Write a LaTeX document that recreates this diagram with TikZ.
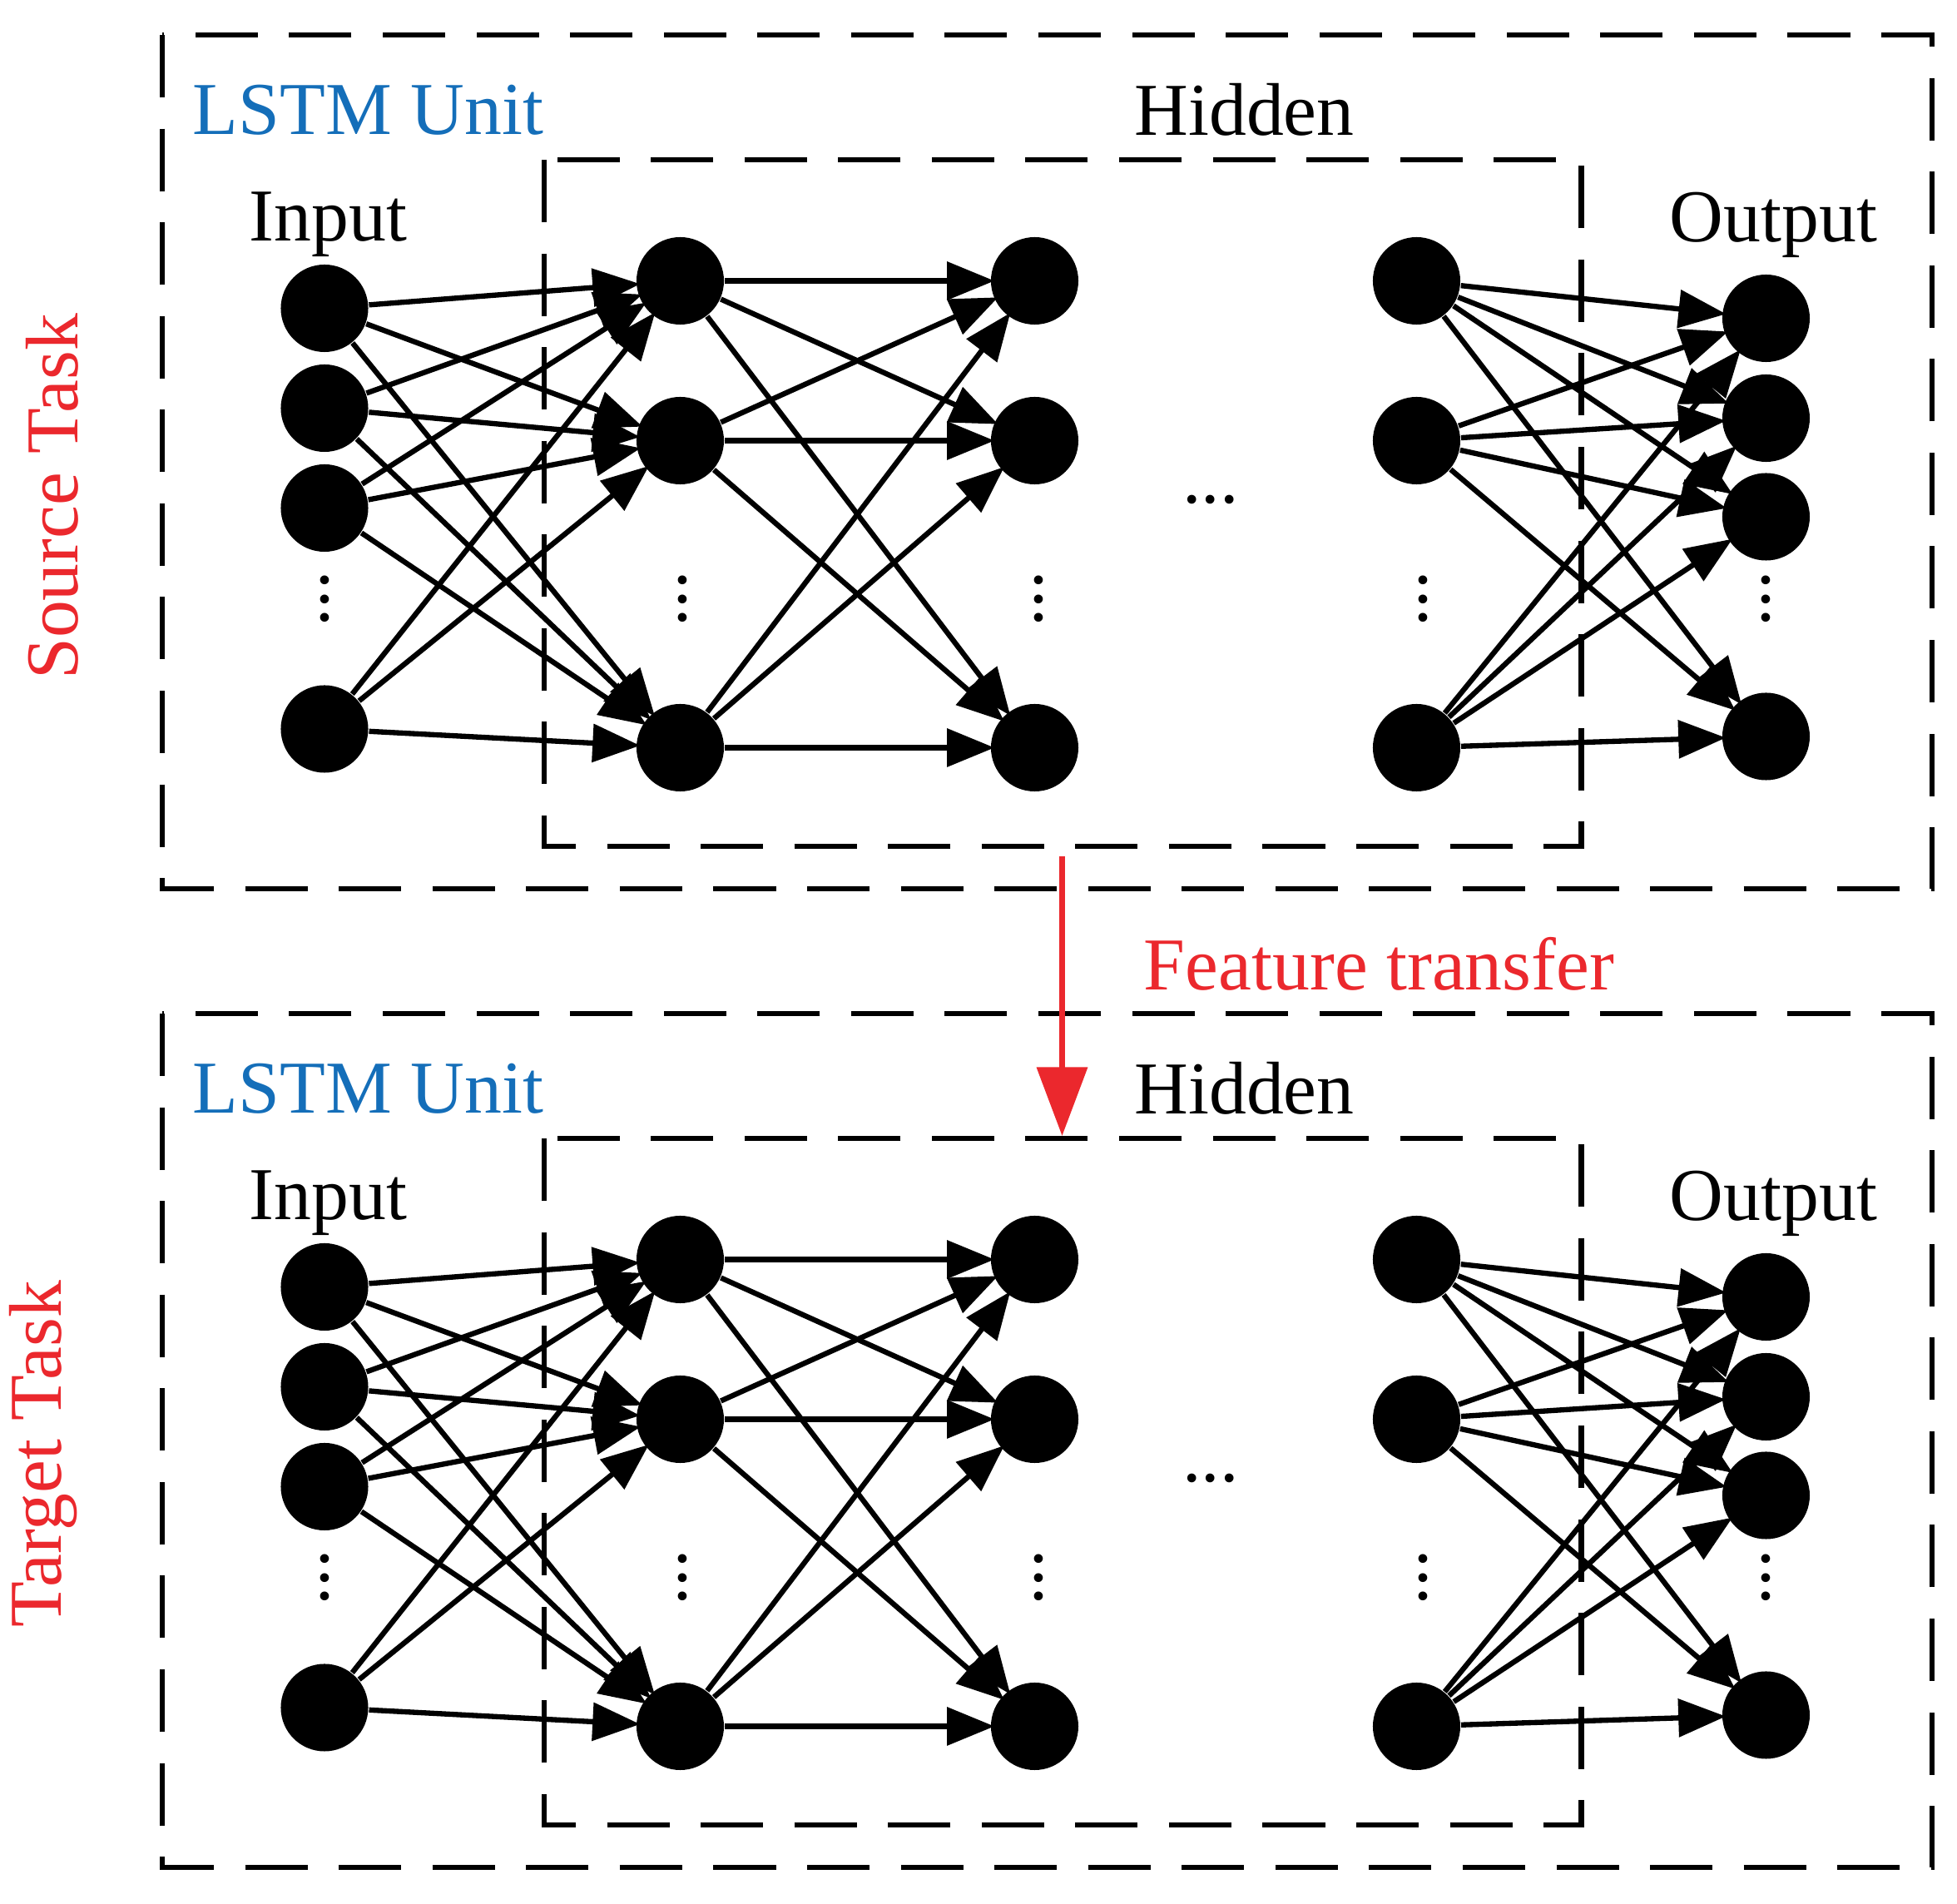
\documentclass[tikz,border=0pt]{standalone}
\usepackage{fontspec}
\setmainfont{Liberation Serif}
\usetikzlibrary{arrows.meta}
\definecolor{lblue}{RGB}{20,110,185}
\definecolor{lred}{RGB}{235,40,45}
\tikzset{
  neu/.style={circle,fill=black,inner sep=0pt,minimum size=0.7cm},
  con/.style={line width=1.2pt,-{Triangle[length=0.38cm,width=0.3cm]},shorten >=-1pt},
  box/.style={line width=1.3pt,dash pattern=on 0.5cm off 0.25cm},
  lbl/.style={font=\fontsize{17}{20}\selectfont},
  vd/.style={font=\fontsize{17}{20}\selectfont,rotate=90}
}
\begin{document}
\begin{tikzpicture}[x=0.01cm,y=-0.01cm]
\useasboundingbox (0,0) rectangle (1568,1525);
\foreach \p/\o in {s/0,t/784}{
  \begin{scope}[yshift=-\o*0.01cm]
  \draw[box] (130,28) rectangle (1548,712);
  \draw[box] (436,128) rectangle (1267,678);
  \node[lbl,text=lblue] (lstm\p) at (295,88) {LSTM Unit};
  \node[lbl] (hid\p) at (997,88) {Hidden};
  \node[lbl] (inp\p) at (263,180) {Input};
  \node[lbl] (out\p) at (1421,180) {Output};
  \foreach \i/\y in {1/247,2/327,3/407,4/584} \node[neu] (i\i\p) at (260,\y) {};
  \foreach \i/\y in {1/225,2/353,3/599} {
    \node[neu] (a\i\p) at (545,\y) {};
    \node[neu] (b\i\p) at (829,\y) {};
    \node[neu] (c\i\p) at (1135,\y) {};
  }
  \foreach \i/\y in {1/255,2/335,3/414,4/590} \node[neu] (o\i\p) at (1415,\y) {};
  \foreach \i in {1,...,4} \foreach \j in {1,2,3} \draw[con] (i\i\p) -- (a\j\p);
  \foreach \i in {1,2,3} \foreach \j in {1,2,3} \draw[con] (a\i\p) -- (b\j\p);
  \foreach \i in {1,2,3} \foreach \j in {1,...,4} \draw[con] (c\i\p) -- (o\j\p);
  \foreach \x/\n in {260/d1,547/d2,832/d3,1140/d4,1415/d5} \node[vd] (\n\p) at (\x,480) {...};
  \node[lbl] (hd\p) at (970,400) {...};
  \end{scope}
}
\node[lbl,text=lred,rotate=90] (src) at (42,398) {Source Task};
\node[lbl,text=lred,rotate=90] (tgt) at (35,1165) {Target Task};
\coordinate (fa) at (851,686);
\coordinate (fb) at (851,910);
\draw[lred,line width=1.3pt,-{Triangle[length=0.55cm,width=0.4cm]}] (fa) -- (fb);
\node[lbl,text=lred] (ft) at (1105,772) {Feature transfer};
\end{tikzpicture}
\end{document}
